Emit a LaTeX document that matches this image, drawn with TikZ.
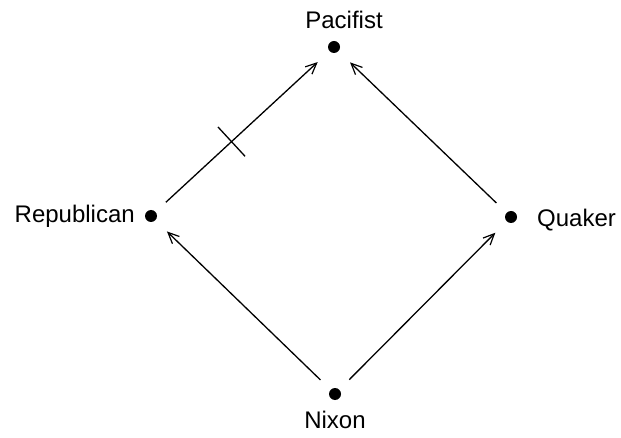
\documentclass[tikz,border=0pt]{standalone}
\usepackage{fontspec}
\setmainfont{Liberation Sans}
\usetikzlibrary{arrows.meta,calc}
\begin{document}
\begin{tikzpicture}[x=1pt,y=-1pt,
  dotnode/.style={circle,fill=black,inner sep=0pt,minimum size=12pt},
  lbl/.style={font=\fontsize{24}{28}\selectfont,inner sep=0pt},
  edge/.style={line width=1.3pt,-{Straight Barb[length=11pt,width=10pt,line width=1.2pt]},shorten <=14pt,shorten >=16pt}]
\useasboundingbox (0,0) rectangle (621,438);
\node[dotnode] (P) at (334,47) {};
\node[dotnode] (R) at (151,216) {};
\node[dotnode] (Q) at (511,217) {};
\node[dotnode] (N) at (335,394) {};
\node[lbl] (Pl) at (344,20) {Pacifist};
\node[lbl,anchor=east] (Rl) at (135,216) {Republican};
\node[lbl,anchor=west] (Ql) at (537,220) {Quaker};
\node[lbl] (Nl) at (335,420) {Nixon};
\draw[edge] (R) -- (P);
\draw[edge] (Q) -- (P);
\draw[edge] (N) -- (R);
\draw[edge] (N) -- (Q);
\coordinate (m) at ($(R)!0.44!(P)$);
\coordinate (t1) at ($(m)!20pt!90:(P)$);
\coordinate (t2) at ($(m)!20pt!-90:(P)$);
\draw[line width=1.3pt] (t1) -- (t2);
\end{tikzpicture}
\end{document}
